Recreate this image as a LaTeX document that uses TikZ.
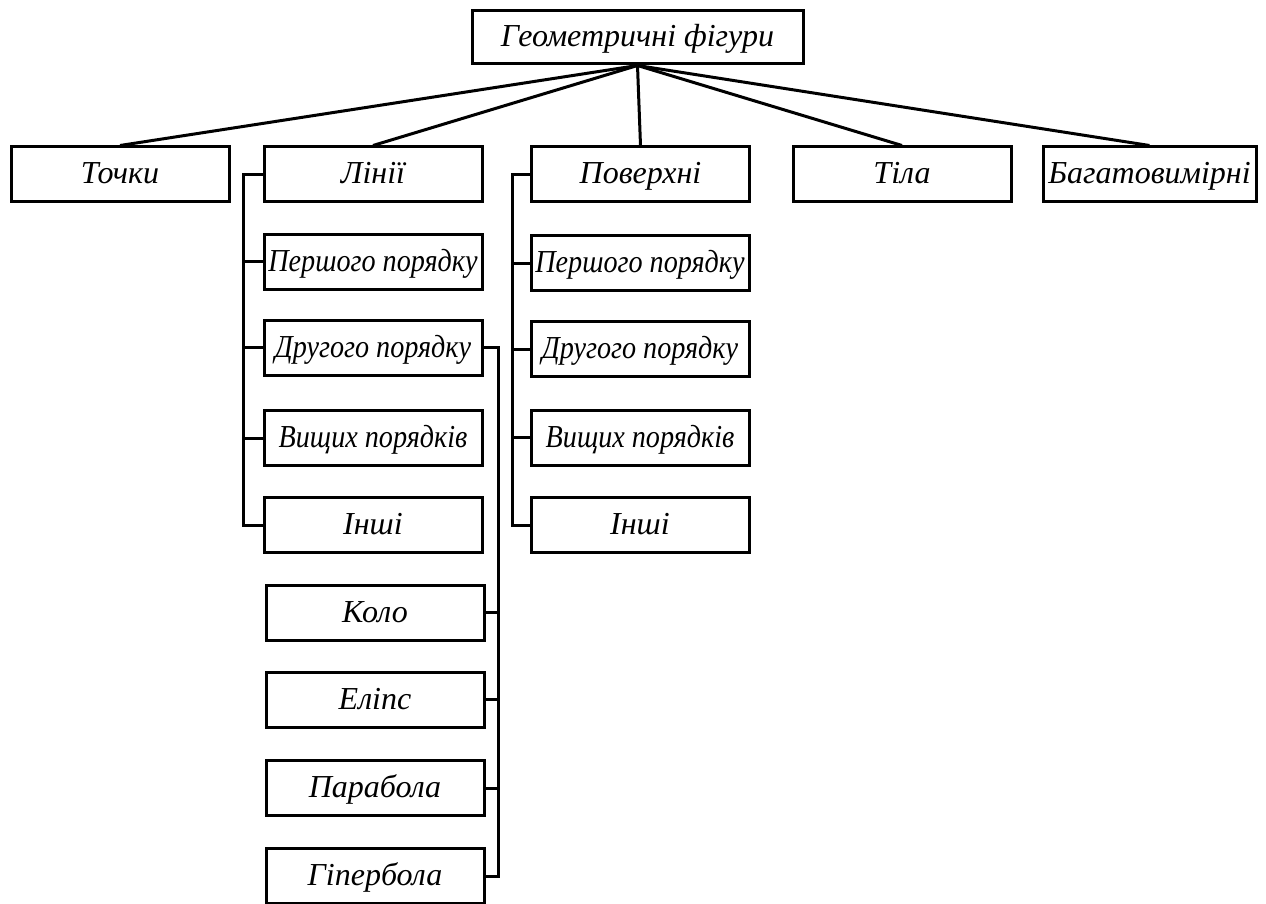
\documentclass[tikz,border=0pt]{standalone}
\usepackage{fontspec}
\setmainfont{Liberation Serif}
\newfontfamily\narrowserif{Liberation Serif}[FakeStretch=0.88]
\begin{document}
\begin{tikzpicture}[x=1pt,y=-1pt,
  box/.style={draw, line width=3pt, rectangle, inner sep=0pt,
    minimum width=218pt, minimum height=55pt,
    text height=22pt, text depth=3pt,
    font=\fontsize{32}{36}\selectfont\itshape},
  narrowbox/.style={box, font=\fontsize{32}{36}\narrowserif\itshape},
  link/.style={line width=3pt}]
\useasboundingbox (0,0) rectangle (1266,904);
\fill[white] (0,0) rectangle (1266,904);

% root
\node[box, minimum width=331pt, minimum height=53pt] (root) at (637.5,37.5) {Геометричні фігури};

% first level
\node[box] (tochky) at (120,174.5) {Точки};
\node[box] (linii) at (373,174.5) {Лінії};
\node[box] (pov) at (640.5,174.5) {Поверхні};
\node[box] (tila) at (902,174.5) {Тіла};
\node[box, minimum width=213pt] (bagato) at (1149.5,174.5) {Багатовимірні};

% lines
\node[narrowbox] (l1) at (373,261.5) {Першого порядку};
\node[narrowbox] (l2) at (373,347.5) {Другого порядку};
\node[narrowbox] (l3) at (373,438) {Вищих порядків};
\node[box] (l4) at (373,525) {Інші};

% surfaces
\node[narrowbox] (p1) at (640,263) {Першого порядку};
\node[narrowbox] (p2) at (640,349) {Другого порядку};
\node[narrowbox] (p3) at (640,437.5) {Вищих порядків};
\node[box] (p4) at (640,525) {Інші};

% second-order curves
\node[box] (k1) at (375,612.5) {Коло};
\node[box] (k2) at (375,699.5) {Еліпс};
\node[box] (k3) at (375,788) {Парабола};
\node[box] (k4) at (375,876) {Гіпербола};

% root connectors
\foreach \n in {tochky,linii,pov,tila,bagato}
  \draw[link] (root.south) -- (\n.north);

% lines branch
\draw[link] (linii.west) -- ++(-19,0) |- (l4.west);
\foreach \n in {l1,l2,l3}
  \draw[link] (\n.west) -- ++(-19,0);

% surfaces branch
\draw[link] (pov.west) -- ++(-18,0) |- (p4.west);
\foreach \n in {p1,p2,p3}
  \draw[link] (\n.west) -- ++(-18,0);

% second-order branch
\coordinate (dt) at (498,0);
\draw[link] (l2.east) -- (l2.east -| dt) |- (k4.east);
\foreach \n in {k1,k2,k3}
  \draw[link] (\n.east) -- (\n.east -| dt);
\end{tikzpicture}
\end{document}
